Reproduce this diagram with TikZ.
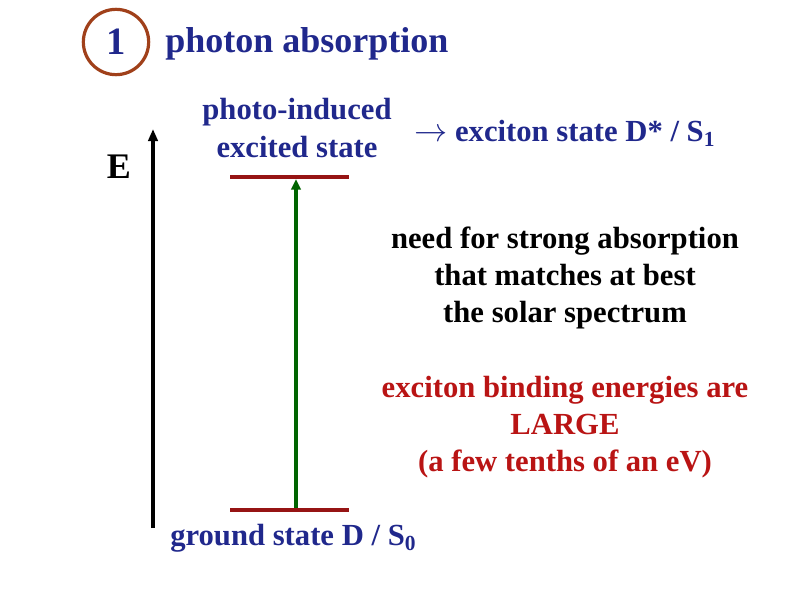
\documentclass[tikz,border=0pt]{standalone}
\usepackage{fontspec}
\setmainfont{Liberation Serif}
\usetikzlibrary{arrows.meta}
\definecolor{navy}{RGB}{32,40,140}
\definecolor{lvl}{RGB}{150,20,20}
\definecolor{brn}{RGB}{160,64,26}
\definecolor{grn}{RGB}{0,100,0}
\definecolor{redtxt}{RGB}{185,20,20}
\begin{document}
\begin{tikzpicture}[x=0.75pt,y=-0.75pt,
  txt/.style={font=\bfseries\fontsize{23}{27.75}\selectfont, align=center, inner sep=0pt},
  level/.style={draw=lvl, line width=3.5pt},
]
\useasboundingbox (0,0) rectangle (800,600);
% title
\node[circle, draw=brn, line width=2.4pt, minimum size=49pt, inner sep=0pt, text=navy, font=\bfseries\fontsize{29}{32}\selectfont] (num) at (116,42) {1};
\node[anchor=west, text=navy, font=\bfseries\fontsize{27}{30}\selectfont, inner sep=0pt] (title) at (165,44) {photon absorption};
% energy axis
\coordinate (ebot) at (153,528);
\coordinate (etop) at (153,129);
\draw[line width=2.3pt, -{Triangle[length=9pt,width=7pt]}] (ebot) -- (etop);
\node[font=\bfseries\fontsize{27}{30}\selectfont, inner sep=0pt] (E) at (119,167) {E};
% levels
\coordinate (exl) at (230,177);
\coordinate (exr) at (349,177);
\coordinate (gl) at (230,510);
\coordinate (gr) at (349,510);
\draw[level] (exl) -- (exr);
\draw[level] (gl) -- (gr);
\coordinate (abot) at (296,508);
\coordinate (atop) at (296,179);
\draw[grn, line width=2.3pt, -{Triangle[length=8pt,width=7pt]}] (abot) -- (atop);
% labels
\node[txt, text=navy, font=\bfseries\fontsize{23}{29}\selectfont] (exc) at (297,128) {photo-induced\\excited state};
\node[txt, text=navy, anchor=west] (exst) at (414,133) {$\rightarrow$ exciton state D* / S\textsubscript{1}};
\node[txt, text=navy, anchor=west] (gs) at (170,538) {ground state D / S\textsubscript{0}};
\node[txt, text=black] (need) at (565,278) {need for strong absorption\\that matches at best\\the solar spectrum};
\node[txt, text=redtxt] (bind) at (565,427) {exciton binding energies are\\LARGE\\(a few tenths of an eV)};
\end{tikzpicture}
\end{document}
